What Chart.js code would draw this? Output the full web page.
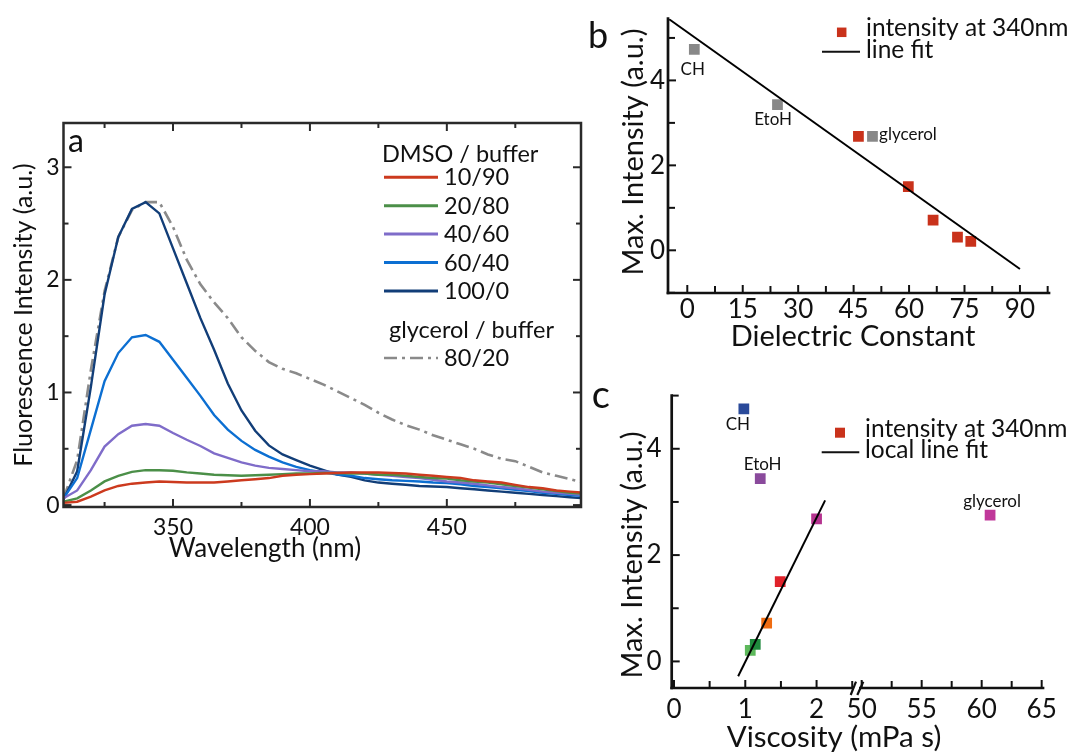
<!DOCTYPE html>
<html>
<head>
<meta charset="utf-8">
<script src="https://cdn.jsdelivr.net/npm/chart.js@4.4.1/dist/chart.umd.min.js"></script>
<style>
  body { margin: 0; background: #fff; }
  #page { position: relative; width: 1076px; height: 754px; overflow: hidden; background: #fff; }
  canvas { position: absolute; }
</style>
</head>
<body>
<div id="page">
  <canvas id="spectra" width="600" height="480" style="left:0;top:100px"></canvas>
  <canvas id="dielectric" width="496" height="360" style="left:580px;top:0"></canvas>
  <canvas id="viscLow" width="496" height="384" style="left:580px;top:370px"></canvas>
  <canvas id="viscHigh" width="256" height="384" style="left:820px;top:370px"></canvas>
</div>
<script>
const FONT = 'Lato, "Open Sans", sans-serif';

// ---- a: emission spectra ----
const wavelength = [310, 315, 320, 325, 330, 335, 340, 345, 350, 355, 360, 365, 370, 375, 380,
  385, 390, 395, 400, 405, 410, 415, 420, 425, 430, 435, 440, 445, 450, 455, 460, 465, 470,
  475, 480, 485, 490, 495, 500];
const dmso10 = [0.02, 0.03, 0.075, 0.13, 0.17, 0.19, 0.20, 0.21, 0.205, 0.20, 0.20, 0.20, 0.21,
  0.22, 0.23, 0.24, 0.26, 0.27, 0.275, 0.28, 0.285, 0.29, 0.29, 0.29, 0.285, 0.28, 0.27, 0.26,
  0.25, 0.24, 0.22, 0.21, 0.20, 0.18, 0.16, 0.15, 0.13, 0.12, 0.11];
const dmso20 = [0.03, 0.06, 0.13, 0.21, 0.26, 0.295, 0.31, 0.31, 0.305, 0.29, 0.28, 0.27, 0.265,
  0.26, 0.265, 0.27, 0.275, 0.28, 0.28, 0.285, 0.285, 0.28, 0.28, 0.27, 0.27, 0.26, 0.25, 0.24,
  0.235, 0.22, 0.21, 0.20, 0.185, 0.17, 0.155, 0.14, 0.125, 0.11, 0.10];
const dmso40 = [0.06, 0.13, 0.31, 0.52, 0.63, 0.705, 0.72, 0.705, 0.64, 0.58, 0.525, 0.46, 0.42,
  0.38, 0.35, 0.33, 0.32, 0.31, 0.30, 0.30, 0.29, 0.29, 0.28, 0.27, 0.26, 0.25, 0.24, 0.225,
  0.21, 0.20, 0.19, 0.175, 0.16, 0.15, 0.135, 0.12, 0.11, 0.10, 0.09];
const dmso60 = [0.06, 0.24, 0.67, 1.10, 1.35, 1.49, 1.51, 1.45, 1.29, 1.13, 0.97, 0.80, 0.67,
  0.57, 0.49, 0.43, 0.38, 0.34, 0.31, 0.29, 0.27, 0.26, 0.24, 0.23, 0.22, 0.215, 0.21, 0.20,
  0.195, 0.185, 0.17, 0.16, 0.15, 0.135, 0.125, 0.11, 0.10, 0.09, 0.08];
const dmso100 = [0.05, 0.30, 1.05, 1.87, 2.38, 2.63, 2.69, 2.59, 2.28, 1.97, 1.66, 1.38, 1.08,
  0.84, 0.66, 0.53, 0.45, 0.40, 0.35, 0.31, 0.27, 0.25, 0.22, 0.20, 0.19, 0.18, 0.17, 0.165,
  0.16, 0.15, 0.14, 0.13, 0.12, 0.11, 0.10, 0.09, 0.08, 0.07, 0.06];
const glycerol80 = [0.06, 0.40, 1.20, 1.90, 2.38, 2.62, 2.69, 2.69, 2.47, 2.18, 1.96, 1.80, 1.66,
  1.49, 1.37, 1.27, 1.21, 1.17, 1.12, 1.07, 1.01, 0.95, 0.89, 0.82, 0.76, 0.71, 0.67, 0.62,
  0.58, 0.54, 0.50, 0.45, 0.41, 0.39, 0.34, 0.29, 0.26, 0.23, 0.20];
const dmsoRatios = ['10/90', '20/80', '40/60', '60/40', '100/0'];
const glycerolRatio = '80/20';
const spectraXTicks = [350, 400, 450];
const spectraYTicks = [0, 1, 2, 3];

// ---- b: max intensity vs dielectric constant ----
const dielWater = [46.3, 59.8, 66.5, 73.1, 76.7];
const maxWater = [2.68, 1.50, 0.71, 0.31, 0.21];
const dielSolvent = [1.9, 24.4, 50.1];
const maxSolvent = [4.73, 3.43, 2.68];
const solventNames = ['CH', 'EtoH', 'glycerol'];
const dielFitX = [-4.9, 90];
const dielFitY = [5.44, -0.44];
const dielXTicks = [0, 15, 30, 45, 60, 75, 90];
const intensityTicks = [0, 2, 4];

// ---- c: max intensity vs viscosity (broken axis) ----
const viscLow = [0.98, 1.21, 2.0, 1.49, 1.30, 1.07, 1.14];
const maxLow = [4.75, 3.44, 2.68, 1.50, 0.72, 0.21, 0.32];
const viscHigh = [60.7];
const maxHigh = [2.68];
const viscFitX = [0.90, 2.12];
const viscFitY = [-0.28, 3.03];
const viscLowTicks = [0, 1, 2];
const viscHighTicks = [50, 55, 60, 65];

const pts = (xs, ys) => xs.map((x, i) => ({ x, y: ys[i] }));

// inward major/minor ticks and axis lines
function axesFrame(o) {
  return {
    id: 'axesFrame',
    afterDatasetsDraw(chart) {
      const { ctx, chartArea: a } = chart;
      const sx = chart.scales.x, sy = chart.scales.y;
      const minors = (scale) => {
        const v = scale.ticks.map(t => t.value);
        const step = v[1] - v[0], out = [];
        for (let m = v[0] - step / 2; m <= scale.max; m += step) if (m >= scale.min) out.push(m);
        return out;
      };
      const seg = (x1, y1, x2, y2) => { ctx.beginPath(); ctx.moveTo(x1, y1); ctx.lineTo(x2, y2); ctx.stroke(); };
      ctx.save();
      ctx.strokeStyle = o.color;
      ctx.lineWidth = o.tickWidth;
      const xTicks = [[sx.ticks.map(t => t.value), o.major], [minors(sx), o.minor]];
      xTicks.forEach(([vals, len]) => vals.forEach(v => {
        const p = sx.getPixelForValue(v);
        if (o.bottom) seg(p, a.bottom, p, a.bottom - len);
        if (o.top) seg(p, a.top, p, a.top + len);
      }));
      if (o.left || o.right) {
        const yTicks = [[sy.ticks.map(t => t.value), o.major], [minors(sy), o.minor]];
        yTicks.forEach(([vals, len]) => vals.forEach(v => {
          const p = sy.getPixelForValue(v);
          if (o.left) seg(a.left, p, a.left + len, p);
          if (o.right) seg(a.right, p, a.right - len, p);
        }));
      }
      ctx.lineWidth = o.axisWidth;
      ctx.lineCap = 'square';
      if (o.top && o.right) {
        ctx.strokeRect(a.left, a.top, a.right - a.left, a.bottom - a.top);
      } else {
        if (o.left) seg(a.left, a.top, a.left, a.bottom);
        if (o.bottom) seg(a.left, a.bottom, a.right, a.bottom);
      }
      ctx.restore();
    }
  };
}

// free text, legend keys and point labels
function notes(items) {
  return {
    id: 'notes',
    afterDraw(chart) {
      const { ctx } = chart;
      ctx.save();
      items.forEach(it => {
        ctx.fillStyle = it.color || '#111';
        ctx.strokeStyle = it.color || '#111';
        if (it.kind === 'line') {
          ctx.lineWidth = it.width || 2;
          ctx.setLineDash(it.dash || []);
          ctx.beginPath(); ctx.moveTo(it.x1, it.y); ctx.lineTo(it.x2, it.y); ctx.stroke();
          ctx.setLineDash([]);
        } else if (it.kind === 'square') {
          ctx.fillRect(it.x - it.size / 2, it.y - it.size / 2, it.size, it.size);
        } else {
          let x = it.x, y = it.y;
          if (it.at) {
            x = chart.scales.x.getPixelForValue(it.at[0]) + it.dx;
            y = chart.scales.y.getPixelForValue(it.at[1]) + it.dy;
          }
          ctx.font = `${it.size}px ${FONT}`;
          ctx.textAlign = it.align || 'left';
          ctx.textBaseline = it.baseline || 'alphabetic';
          ctx.translate(x, y);
          if (it.rotate) ctx.rotate(it.rotate);
          ctx.fillText(it.text, 0, 0);
          ctx.setTransform(1, 0, 0, 1, 0, 0);
        }
      });
      ctx.restore();
    }
  };
}

function scaleOpts(min, max, ticks, fit, tickFont, pad, display = true) {
  return {
    type: 'linear', min, max, display,
    grid: { display: false, drawTicks: false },
    border: { display: false },
    afterBuildTicks: s => { s.ticks = ticks.map(value => ({ value })); },
    afterFit: fit,
    ticks: { font: { family: FONT, size: tickFont }, color: '#111', padding: pad, maxRotation: 0 }
  };
}

const baseOpts = (padding, scales) => ({
  responsive: false, animation: false, events: [],
  layout: { padding },
  plugins: { legend: { display: false }, tooltip: { enabled: false } },
  scales
});

// panel a
const specColors = ['#cc3a1e', '#4b8f48', '#7f6cc9', '#0c6fd2', '#123e78'];
const specSeries = [dmso10, dmso20, dmso40, dmso60, dmso100];
const specSets = specSeries.map((ys, i) => ({
  label: dmsoRatios[i], data: pts(wavelength, ys), borderColor: specColors[i],
  borderWidth: 2.4, pointRadius: 0, tension: 0
}));
specSets.push({
  label: glycerolRatio, data: pts(wavelength, glycerol80), borderColor: '#8a8a8a',
  borderWidth: 2.6, borderDash: [13, 5, 3, 5], pointRadius: 0, tension: 0
});
const specLegend = [
  { text: 'DMSO / buffer', x: 382, y: 61.7, size: 23.5 },
  { text: 'glycerol / buffer', x: 389, y: 238, size: 23.5 },
  { kind: 'line', x1: 384, x2: 438, y: 258, color: '#8a8a8a', width: 2.6, dash: [13, 5, 3, 5] },
  { text: glycerolRatio, x: 444, y: 266, size: 23.5 },
  { text: 'a', x: 68, y: 52, size: 32 },
  { text: 'Fluorescence Intensity (a.u.)', x: 24, y: 215, size: 25, align: 'center', baseline: 'middle', rotate: -Math.PI / 2 },
  { text: 'Wavelength (nm)', x: 265, y: 449, size: 26, align: 'center', baseline: 'middle' }
];
dmsoRatios.forEach((r, i) => {
  const y = 77.3 + i * 28.4;
  specLegend.push({ kind: 'line', x1: 384, x2: 438, y, color: specColors[i], width: 3 });
  specLegend.push({ text: r, x: 444, y: y + 8, size: 23.5 });
});

new Chart(document.getElementById('spectra'), {
  type: 'line',
  data: { datasets: specSets },
  options: baseOpts({ left: 0, top: 23, right: 19, bottom: 0 }, {
    x: scaleOpts(310, 499, spectraXTicks, s => { s.height = 73; }, 23, 6.5),
    y: scaleOpts(-0.017, 3.393, spectraYTicks, s => { s.width = 63.5; }, 23, 4)
  }),
  plugins: [axesFrame({ color: '#2a2a2a', axisWidth: 2.5, tickWidth: 2, major: 8, minor: 5,
    left: true, bottom: true, top: true, right: true }), notes(specLegend)]
});

// panel b
const squareSet = (data, color, order) => ({
  type: 'scatter', data, order, pointStyle: 'rect', pointRadius: 7.6,
  pointBackgroundColor: color, pointBorderWidth: 0, pointBorderColor: color, showLine: false
});
const fitSet = (data) => ({
  type: 'line', data, order: 0, borderColor: '#000', borderWidth: 2, pointRadius: 0, tension: 0
});

new Chart(document.getElementById('dielectric'), {
  type: 'scatter',
  data: { datasets: [
    fitSet(pts(dielFitX, dielFitY)),
    squareSet(pts(dielWater, maxWater), '#c9321b', 1),
    squareSet(pts(dielSolvent, maxSolvent), '#888888', 1)
  ] },
  options: baseOpts({ left: 0, top: 12, right: 27, bottom: 0 }, {
    x: scaleOpts(-5.22, 97.86, dielXTicks, s => { s.height = 67; }, 26, 1.5),
    y: scaleOpts(-1.005, 5.455, intensityTicks, s => { s.width = 88; }, 26, 3)
  }),
  plugins: [axesFrame({ color: '#111', axisWidth: 2.7, tickWidth: 2, major: 8, minor: 7,
    left: true, bottom: true }),
    notes([
      { kind: 'square', x: 261.7, y: 32.3, size: 9.5, color: '#c9321b' },
      { text: 'intensity at 340nm', x: 286, y: 36, size: 24.5 },
      { kind: 'line', x1: 242, x2: 280, y: 51.7, width: 2 },
      { text: 'line fit', x: 286, y: 57.7, size: 24.5 },
      { text: 'b', x: 8, y: 48.3, size: 36 },
      { text: 'Max. Intensity (a.u.)', x: 54, y: 152, size: 29, align: 'center', baseline: 'middle', rotate: -Math.PI / 2 },
      { text: 'Dielectric Constant', x: 273, y: 336.7, size: 29, align: 'center', baseline: 'middle' },
      { text: solventNames[0], at: [dielSolvent[0], maxSolvent[0]], dx: -1.6, dy: 20, size: 17, align: 'center', baseline: 'middle' },
      { text: solventNames[1], at: [dielSolvent[1], maxSolvent[1]], dx: -4.4, dy: 15, size: 17, align: 'center', baseline: 'middle' },
      { text: solventNames[2], at: [dielSolvent[2], maxSolvent[2]], dx: 6.6, dy: -2, size: 17, baseline: 'middle' }
    ])]
});

// panel c, low-viscosity segment
const lowColors = ['#2a4a9a', '#8a4a9c', '#b5338f', '#e0222a', '#ef6c12', '#5db85b', '#1f8a3d'];
new Chart(document.getElementById('viscLow'), {
  type: 'scatter',
  data: { datasets: [
    fitSet(pts(viscFitX, viscFitY)),
    squareSet(pts(viscLow, maxLow), lowColors, 1)
  ] },
  options: baseOpts({ left: 0, top: 19, right: 222, bottom: 0 }, {
    x: scaleOpts(-0.032, 2.525, viscLowTicks, s => { s.height = 66; }, 26, 6),
    y: scaleOpts(-0.5, 5.0, intensityTicks, s => { s.width = 91.7; }, 26, 10)
  }),
  plugins: [axesFrame({ color: '#111', axisWidth: 2.7, tickWidth: 2, major: 8, minor: 7,
    left: true, bottom: true }),
    notes([
      { kind: 'square', x: 260, y: 62.7, size: 10, color: '#c9321b' },
      { text: 'intensity at 340nm', x: 285, y: 66.7, size: 24.5 },
      { kind: 'line', x1: 241.7, x2: 279.3, y: 82.3, width: 2 },
      { text: 'local line fit', x: 285, y: 88.3, size: 24.5 },
      { text: 'c', x: 11.7, y: 38.3, size: 38 },
      { text: 'Max. Intensity (a.u.)', x: 53, y: 185, size: 29, align: 'center', baseline: 'middle', rotate: -Math.PI / 2 },
      { text: 'Viscosity (mPa s)', x: 254, y: 367, size: 29.5, align: 'center', baseline: 'middle' },
      { text: solventNames[0], at: [viscLow[0], maxLow[0]], dx: -6, dy: 16, size: 17, align: 'center', baseline: 'middle' },
      { text: solventNames[1], at: [viscLow[1], maxLow[1]], dx: 2.4, dy: -14, size: 17, align: 'center', baseline: 'middle' }
    ])]
});

// panel c, high-viscosity segment with the axis break marks
const breakMarks = {
  id: 'breakMarks',
  afterDraw(chart) {
    const { ctx, chartArea: a } = chart;
    ctx.save();
    ctx.fillStyle = '#fff';
    ctx.fillRect(a.left - 7, a.bottom - 3, 6, 6);
    ctx.strokeStyle = '#111';
    ctx.lineWidth = 2.2;
    [[-9.3, -4], [-2.7, 3.3]].forEach(([x1, x2]) => {
      ctx.beginPath();
      ctx.moveTo(a.left + x1, a.bottom + 7);
      ctx.lineTo(a.left + x2, a.bottom - 6.3);
      ctx.stroke();
    });
    ctx.restore();
  }
};
new Chart(document.getElementById('viscHigh'), {
  type: 'scatter',
  data: { datasets: [squareSet(pts(viscHigh, maxHigh), '#c0389a', 1)] },
  options: baseOpts({ left: 40, top: 19, right: 33, bottom: 0 }, {
    x: scaleOpts(49.86, 65.11, viscHighTicks, s => { s.height = 66; }, 26, 6),
    y: scaleOpts(-0.5, 5.0, intensityTicks, s => { s.width = 0; }, 26, 10, false)
  }),
  plugins: [axesFrame({ color: '#111', axisWidth: 2.7, tickWidth: 2, major: 8, minor: 7,
    bottom: true }), breakMarks,
    notes([
      { text: solventNames[2], at: [viscHigh[0], maxHigh[0]], dx: 2, dy: -13.6, size: 17, align: 'center', baseline: 'middle' }
    ])]
});
</script>
</body>
</html>
